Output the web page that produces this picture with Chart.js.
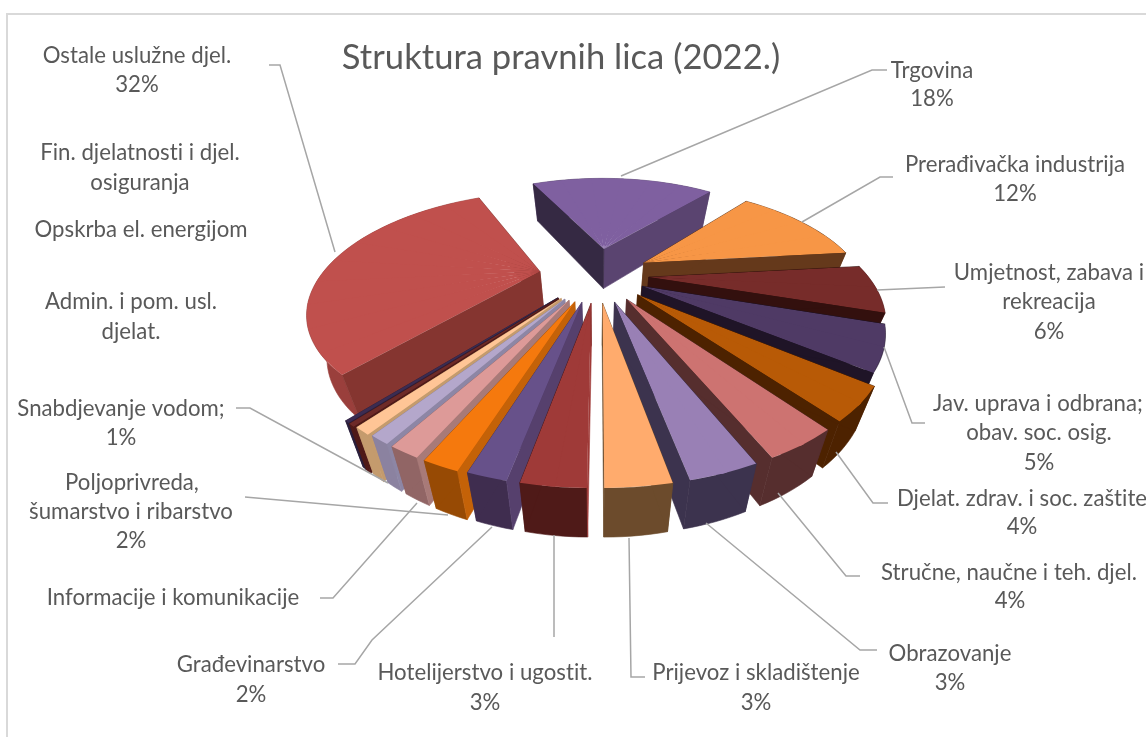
<!DOCTYPE html>
<html><head><meta charset="utf-8">
<style>html,body{margin:0;padding:0;background:#fff;overflow:hidden}canvas{display:block}</style>
<script src="https://cdn.jsdelivr.net/npm/chart.js@4"></script>
</head><body><canvas id="c" width="1146" height="737"></canvas>
<script>
const title = "Struktura pravnih lica (2022.)";
const categories = ["Trgovina","Prerađivačka industrija","Umjetnost, zabava i rekreacija","Jav. uprava i odbrana; obav. soc. osig.","Djelat. zdrav. i soc. zaštite","Stručne, naučne i teh. djel.","Obrazovanje","Prijevoz i skladištenje","Hotelijerstvo i ugostit.","Građevinarstvo","Poljoprivreda, šumarstvo i ribarstvo","Informacije i komunikacije","Snabdjevanje vodom;","Admin. i pom. usl. djelat.","Opskrba el. energijom","Fin. djelatnosti i djel. osiguranja","Ostale uslužne djel."];
const shares = [18.4,12.3,6.2,5.2,3.7,3.6,3.4,3.3,3.4,2.2,2.1,1.8,1.2,1.0,0.4,0.3,32.4];
const topColors  = ["#7F60A0","#F79646","#772C2A","#4F3A65","#B85A06","#CD7371","#9980B5","#FFAB6D","#9F3A38","#67518A","#F5790D","#DD9A98","#B4A7CB","#FFC596","#6D2A28","#3B2C52","#C0504D"];
const wallColors = ["#5A4470","#65391B","#5A1F1E","#33253F","#4D2200","#562E2E","#3C334E","#6C4B2C","#4F1A18","#3F2D4F","#974A04","#916565","#8B82A0","#C49B6D","#4F1A18","#2A1F3A","#9A3F3C"];
const startSide  = ["#352943","#65391B","#33100E","#1F1427","#4D2200","#562E2E","#3C334E","#6C4B2C","#9F3A38","#56406D","#C46208","#A87A78","#8D86A5","#C49B6D","#4F1A18","#2A1F3A","#853530"];
const endSide    = ["#5A4470","#65391B","#33100E","#1F1427","#4D2200","#562E2E","#3C334E","#6C4B2C","#4F1A18","#3F2D4F","#974A04","#916565","#8B82A0","#C49B6D","#4F1A18","#2A1F3A","#853530"];
const explode    = [55,52,49,47,52,52,52,52,52,52,53,53,53,54,55,55,55];
const calloutText = [
 {lines:["Trgovina","18%"],x:[932,932],y:[71,99]},
 {lines:["Prerađivačka industrija","12%"],x:[1015,1015],y:[165,194]},
 {lines:["Umjetnost, zabava i","rekreacija","6%"],x:[1049,1049,1049],y:[273,302,332]},
 {lines:["Jav. uprava i odbrana;","obav. soc. osig.","5%"],x:[1038,1039,1039],y:[404,433,463]},
 {lines:["Djelat. zdrav. i soc. zaštite","4%"],x:[1022,1022],y:[499,527]},
 {lines:["Stručne, naučne i teh. djel.","4%"],x:[1009,1010],y:[573,601]},
 {lines:["Obrazovanje","3%"],x:[950,950],y:[654,683]},
 {lines:["Prijevoz i skladištenje","3%"],x:[756,756],y:[673,703]},
 {lines:["Hotelijerstvo i ugostit.","3%"],x:[485,485],y:[673,703]},
 {lines:["Građevinarstvo","2%"],x:[251,251],y:[665,695]},
 {lines:["Poljoprivreda,","šumarstvo i ribarstvo","2%"],x:[132,131,131],y:[483,512,541]},
 {lines:["Informacije i komunikacije"],x:[173],y:[598]},
 {lines:["Snabdjevanje vodom;","1%"],x:[121,121],y:[409,438]},
 {lines:["Admin. i pom. usl.","djelat."],x:[131,131],y:[302,332]},
 {lines:["Opskrba el. energijom"],x:[141],y:[230]},
 {lines:["Fin. djelatnosti i djel.","osiguranja"],x:[140,140],y:[153,183]},
 {lines:["Ostale uslužne djel.","32%"],x:[137,137],y:[56,85]}
];
const leaderLines = [
 [[621,176],[872,70],[887,70]],
 [[802,222],[880,177],[893,177]],
 [[877,290],[945,287]],
 [[884,347],[912,423],[925,423]],
 [[836,452],[873,503],[888,503]],
 [[778,493],[846,576],[860,576]],
 [[706,523],[860,650],[877,650]],
 [[629,538],[631,677],[645,677]],
 [[554,535],[554,637]],
 [[492,527],[372,640],[355,664],[338,664]],
 [[448,515],[245,497]],
 [[417,503],[333,598],[320,598]],
 [[388,483],[250,408],[236,408]],
 [[335,252],[280,65],[269,65]]
];
// view of the pie plane
const view = {cx:597, cy:283, K:0.535, Kx:1.08, p:0.00151, v0:-16, wallA:30, wallB:0.039, wallS:0.93};
const RADIUS = 207;
const DEG=Math.PI/180;
function project(u,v){const w=1-view.p*v;return [view.cx+view.Kx*u/w, view.cy+view.K*v/w];}
function warp(t){ // canvas angle -> viewed angle: foreshortening of the near side
  let a=((t/DEG+90)%360+360)%360;
  const q=(a-160)/80;
  const d=Math.abs(q)<1?6*Math.pow(Math.cos(q*Math.PI/2),2):0;
  return t+d*DEG;
}
function lower(P){return [view.cx+(P[0]-view.cx)*view.wallS, P[1]+view.wallA+view.wallB*P[1]];}
function poly(ctx,pts,color){ctx.fillStyle=color;ctx.strokeStyle=color;ctx.lineWidth=0.6;ctx.beginPath();pts.forEach((p,i)=>i?ctx.lineTo(p[0],p[1]):ctx.moveTo(p[0],p[1]));ctx.closePath();ctx.fill();ctx.stroke();}

const pie3d = {
 id:'pie3d',
 beforeDatasetsDraw(chart){
  const ctx=chart.ctx, arcs=chart.getDatasetMeta(0).data;
  const order=arcs.map((a,i)=>i).sort((i,j)=>{
    const m=k=>Math.sin((arcs[k].startAngle+arcs[k].endAngle)/2);return m(i)-m(j);});
  order.forEach(i=>{
    const a=arcs[i], s=a.startAngle, e=a.endAngle, mid=(s+e)/2, R=a.outerRadius, o=explode[i];
    const ou=o*Math.cos(warp(mid)), ov=o*Math.sin(warp(mid))+view.v0;
    const D0=project(ou,ov);
    const P=t=>{const w=warp(t);return project(ou+R*Math.cos(w),ov+R*Math.sin(w));};
    const n=Math.max(4,Math.ceil((e-s)/0.03));
    const rim=[];for(let k=0;k<=n;k++)rim.push(P(s+(e-s)*k/n));
    const rimLow=rim.map(lower).reverse();
    poly(ctx,rim.concat(rimLow),wallColors[i]);
    poly(ctx,[D0,rim[n],lower(rim[n]),lower(D0)],endSide[i]);
    poly(ctx,[D0,rim[0],lower(rim[0]),lower(D0)],startSide[i]);
    // top face: the library's arc, drawn sector by sector under a local affine view
    const secs=Math.max(1,Math.ceil((e-s)/(12*DEG)));
    for(let q=0;q<secs;q++){
      const t0=s+(e-s)*q/secs, t1=s+(e-s)*(q+1)/secs;
      const e1=[R*Math.cos(t0),R*Math.sin(t0)], e2=[R*Math.cos(t1),R*Math.sin(t1)];
      const det=e1[0]*e2[1]-e2[0]*e1[1];
      const P0=P(t0),P1=P(t1);
      const d1=[P0[0]-D0[0],P0[1]-D0[1]], d2=[P1[0]-D0[0],P1[1]-D0[1]];
      const A=(d1[0]*e2[1]-d2[0]*e1[1])/det, C=(d2[0]*e1[0]-d1[0]*e2[0])/det;
      const B=(d1[1]*e2[1]-d2[1]*e1[1])/det, Dd=(d2[1]*e1[0]-d1[1]*e2[0])/det;
      ctx.save();
      if(secs>1){
        const g=0.008, ext=(t,k)=>{const w=P(t);return [D0[0]+(w[0]-D0[0])*k,D0[1]+(w[1]-D0[1])*k];};
        const c0=ext(t0-(q?g:0),1.3), c1=ext(t1+(q<secs-1?g:0),1.3);
        ctx.beginPath();ctx.moveTo(D0[0],D0[1]);ctx.lineTo(c0[0],c0[1]);ctx.lineTo(c1[0],c1[1]);ctx.closePath();ctx.clip();
      }
      ctx.setTransform(A,B,C,Dd,D0[0]-A*a.x-C*a.y,D0[1]-B*a.x-Dd*a.y);
      a.draw(ctx);
      ctx.restore();
    }
  });
  return false;
 },
 afterDraw(chart){
  const ctx=chart.ctx;
  ctx.save();
  ctx.strokeStyle='#D9D9D9';ctx.lineWidth=2;ctx.strokeRect(7,14,1300,900);
  ctx.strokeStyle='#A6A6A6';ctx.lineWidth=1.5;
  leaderLines.forEach(l=>{ctx.beginPath();l.forEach((p,i)=>i?ctx.lineTo(p[0],p[1]):ctx.moveTo(p[0],p[1]));ctx.stroke();});
  ctx.fillStyle='#595959';ctx.textAlign='center';ctx.textBaseline='middle';
  ctx.letterSpacing='0.02px';
  ctx.font='22.2px Lato';
  calloutText.forEach(c=>c.lines.forEach((t,i)=>ctx.fillText(t,c.x[i],c.y[i])));
  ctx.font='34.6px Lato';
  ctx.fillText(title,561,58);
  ctx.restore();
 }
};
new Chart(document.getElementById('c'),{
 type:'pie',
 data:{labels:categories,datasets:[{data:shares,backgroundColor:topColors,borderWidth:0,hoverOffset:0}]},
 options:{responsive:false,animation:false,radius:RADIUS,rotation:-25.5,
  events:[],
  plugins:{legend:{display:false},tooltip:{enabled:false},title:{display:false}}},
 plugins:[pie3d]
});
</script></body></html>
